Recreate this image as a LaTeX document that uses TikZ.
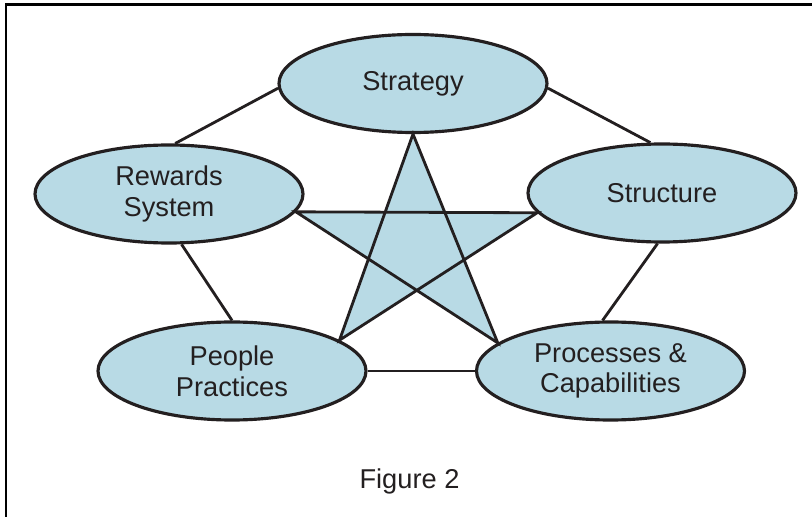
\documentclass[tikz,border=0pt]{standalone}
\usepackage{fontspec}
\setmainfont{Liberation Sans}
\usetikzlibrary{shapes.geometric}
\definecolor{lightblue}{RGB}{184,218,229}
\definecolor{darkline}{RGB}{35,31,32}

\begin{document}
\begin{tikzpicture}
    [
        topic_node/.style={ellipse, draw=darkline, fill=lightblue, line width=1.8pt, minimum width=5.36cm, minimum height=1.96cm, inner sep=0pt, align=center, font=\fontsize{15.5}{17.5}\selectfont, text=darkline},
        link/.style={draw=darkline, line width=1.6pt},
    ]

  \useasboundingbox (0,0) rectangle (16.24,-10.34);
  \draw[line width=1.2pt] (0.12,-10.34) -- (0.12,-0.09) -- (16.24,-0.09);

  \node[topic_node] (strategy) at (8.26,-1.67) {Strategy};
  \node[topic_node] (rewards) at (3.38,-3.88) {Rewards\\System};
  \node[topic_node] (structure) at (13.24,-3.86) {Structure};
  \node[topic_node] (people) at (4.64,-7.42) {People\\Practices};
  \node[topic_node] (processes) at (12.21,-7.42) {Processes \&\\Capabilities};

  \node[font=\fontsize{15.5}{17.5}\selectfont, text=darkline] (caption) at (8.19,-9.62) {Figure 2};

  % outer ring
  \draw[link] (strategy.182) -- (rewards.83);
  \draw[link] (strategy.-2) -- (structure.103);
  \draw[link] (rewards.-76) -- (people.north);
  \draw[link] (structure.-95) -- (processes.99);
  \draw[link] (people.east) -- (processes.west);

  % star in the middle
  \filldraw[link, fill=lightblue, line join=miter] (strategy.south) -- (people.16) -- (structure.189) -- (rewards.-8) -- (processes.166) -- cycle;
\end{tikzpicture}
\end{document}
